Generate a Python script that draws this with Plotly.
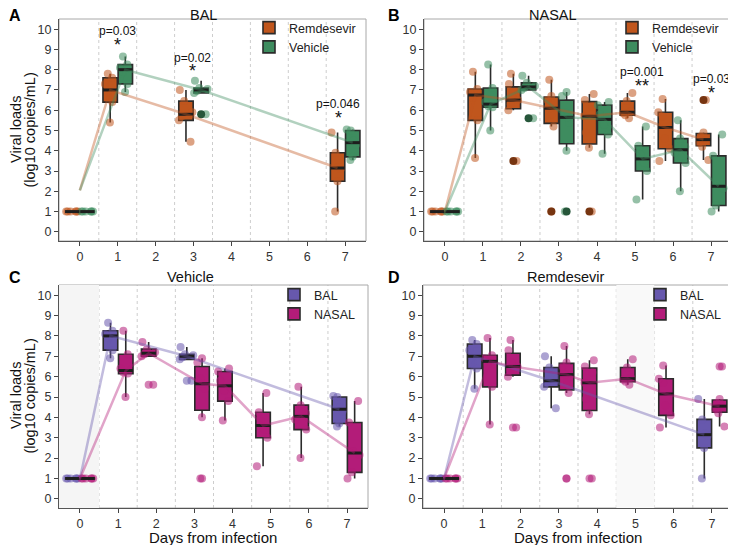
import statistics
import plotly.graph_objects as go

# ---------------- data ----------------
days_bal = [0, 1, 3, 7]
days_nasal = [0, 1, 2, 3, 4, 5, 6, 7]

# BAL, Remdesevir (per day, same order as days_bal)
rem_bal = [
    [1, 1, 1, 1, 1, 1],
    [5.4, 6.4, 6.7, 7.3, 7.6, 7.8],
    [4.45, 5.5, 5.7, 5.9, 6.45, 7.0],
    [1.0, 2.5, 3.1, 3.2, 3.9, 4.9],
]
# BAL, Vehicle
veh_bal = [
    [1, 1, 1, 1, 1, 1],
    [6.9, 7.3, 7.9, 8.1, 8.25, 8.65],
    [5.8, 6.85, 6.95, 7.05, 7.1, 7.45],
    [3.55, 3.7, 4.3, 4.5, 5.0, 5.05],
]
# NASAL, Remdesevir (per day, same order as days_nasal)
rem_nasal = [
    [1, 1, 1, 1, 1, 1],
    [3.65, 5.5, 6.6, 6.9, 7.05, 7.9],
    [3.5, 6.0, 6.3, 6.5, 6.7, 7.3, 7.8],
    [1.0, 5.2, 5.8, 6.1, 6.5, 6.7, 7.5],
    [1.0, 4.15, 4.9, 5.7, 6.2, 6.5, 6.8],
    [5.6, 5.75, 5.85, 5.95, 6.45, 6.85],
    [3.5, 4.1, 4.6, 5.7, 5.9, 6.55],
    [3.55, 4.2, 4.4, 4.55, 4.7, 4.9, 6.5],
]
# NASAL, Vehicle
veh_nasal = [
    [1, 1, 1, 1, 1, 1],
    [5.0, 6.15, 6.2, 6.4, 7.1, 8.25],
    [5.6, 7.0, 7.1, 7.2, 7.35, 7.7],
    [1.0, 4.0, 5.4, 5.65, 5.9, 6.7, 6.9],
    [3.85, 4.8, 5.3, 5.8, 6.25, 6.4],
    [1.6, 3.0, 3.4, 3.8, 4.25, 5.2],
    [2.0, 3.4, 3.9, 4.2, 4.6, 5.5],
    [1.0, 1.3, 2.15, 2.35, 3.75, 4.8],
]

# trend lines
trend_a_rem = [2.05, 7.0, 5.8, 3.15]
trend_a_veh = [2.05, 8.0, 7.0, 4.4]
trend_bal_rem = [1, 7.0, 5.8, 3.15]
trend_bal_veh = [1, 8.0, 7.0, 4.4]
trend_nasal_rem = [1, 6.75, 6.5, 6.1, 5.7, 5.9, 5.15, 4.55]
trend_nasal_veh = [1, 6.3, 7.15, 5.65, 5.55, 3.6, 4.05, 2.25]

# significance labels
sig_a_days = [1, 2.97, 6.82]
sig_a_p = ["p=0.03", "p=0.02", "p=0.046"]
sig_a_star = ["*", "*", "*"]
sig_a_ytext = [9.9, 8.6, 6.3]
sig_b_days = [5.17, 7.0]
sig_b_p = ["p=0.001", "p=0.03"]
sig_b_star = ["**", "*"]
sig_b_ytext = [7.9, 7.55]

x_ticks = [0, 1, 2, 3, 4, 5, 6, 7]
y_ticks = list(range(0, 11))

# ---------------- styles ----------------
C_REM = "#c0561d"
C_VEH = "#3e8c5f"
C_BAL = "#6758ad"
C_NAS = "#b31c79"
FONT = "Liberation Sans"
DODGE = 0.2
BOXW = 0.38

# the page body has an 8px margin, so the figure is placed at (8, 8)
OFF = 8
W, H = 736 - OFF, 545 - OFF


def px(x):
    return (x - OFF) / W


def py(y):
    return 1 - (y - OFF) / H


def rgba(hexc, a):
    h = hexc.lstrip("#")
    return "rgba(%d,%d,%d,%.2f)" % (int(h[0:2], 16), int(h[2:4], 16), int(h[4:6], 16), a)


def darker(hexc, f=0.62):
    h = hexc.lstrip("#")
    r, g, b = (int(h[i:i + 2], 16) for i in (0, 2, 4))
    return "rgb(%d,%d,%d)" % (r * f, g * f, b * f)


def box_positions(days, other_days, first):
    pos = []
    for d in days:
        if first or d not in other_days:
            pos.append(d - DODGE)
        else:
            pos.append(d + DODGE)
    return pos


fig = go.Figure()


def add_series(k, days, values, other_days, first, color, name, legend,
               trend, outlier_color):
    xa = "x" if k == 1 else "x%d" % k
    ya = "y" if k == 1 else "y%d" % k
    pos = box_positions(days, other_days, first)
    xs, ys = [], []
    for p, vals in zip(pos, values):
        xs += [p] * len(vals)
        ys += vals
    fig.add_trace(go.Box(
        x=xs, y=ys, name=name, xaxis=xa, yaxis=ya, legend=legend,
        width=BOXW, fillcolor=color, boxpoints="all", jitter=1.0, pointpos=0,
        line=dict(color="#2b2b2b", width=1.6),
        marker=dict(color=rgba(color, 0.55), size=8, line=dict(width=0)),
        whiskerwidth=0, hoverinfo="skip", showlegend=True))
    fig.add_trace(go.Box(
        x=xs, y=ys, name=name, xaxis=xa, yaxis=ya, legend=legend,
        width=BOXW, fillcolor="rgba(0,0,0,0)", boxpoints="outliers",
        line=dict(color="rgba(0,0,0,0)", width=0),
        marker=dict(color=outlier_color, size=8, line=dict(width=0)),
        hoverinfo="skip", showlegend=False))
    # thicker median bars (as in the reference)
    mx, my = [], []
    for p, vals in zip(pos, values):
        m = statistics.median(vals)
        mx += [p - BOXW / 2, p + BOXW / 2, None]
        my += [m, m, None]
    fig.add_trace(go.Scatter(
        x=mx, y=my, mode="lines", xaxis=xa, yaxis=ya,
        line=dict(color="#1e1e1e", width=3),
        hoverinfo="skip", showlegend=False))
    tx = [0 if d == 0 else p for d, p in zip(days, pos)]
    fig.add_trace(go.Scatter(
        x=tx, y=trend, mode="lines", xaxis=xa, yaxis=ya,
        line=dict(color=rgba(color, 0.4), width=2.5),
        hoverinfo="skip", showlegend=False))


# Panel A: BAL
add_series(1, days_bal, rem_bal, days_bal, True, C_REM, "Remdesevir", "legend",
           trend_a_rem, darker(C_REM))
add_series(1, days_bal, veh_bal, days_bal, False, C_VEH, "Vehicle", "legend",
           trend_a_veh, darker(C_VEH))
# Panel B: NASAL
add_series(2, days_nasal, rem_nasal, days_nasal, True, C_REM, "Remdesevir", "legend2",
           trend_nasal_rem, darker(C_REM))
add_series(2, days_nasal, veh_nasal, days_nasal, False, C_VEH, "Vehicle", "legend2",
           trend_nasal_veh, darker(C_VEH))
# Panel C: Vehicle
add_series(3, days_bal, veh_bal, days_nasal, True, C_BAL, "BAL", "legend3",
           trend_bal_veh, rgba(C_BAL, 0.55))
add_series(3, days_nasal, veh_nasal, days_bal, False, C_NAS, "NASAL", "legend3",
           trend_nasal_veh, rgba(C_NAS, 0.55))
# Panel D: Remdesevir
add_series(4, days_bal, rem_bal, days_nasal, True, C_BAL, "BAL", "legend4",
           trend_bal_rem, rgba(C_BAL, 0.55))
add_series(4, days_nasal, rem_nasal, days_bal, False, C_NAS, "NASAL", "legend4",
           trend_nasal_rem, rgba(C_NAS, 0.55))

# panel rectangles in reference pixels
panels = {
    1: ((59, 366), (19, 241)),
    2: ((424, 732), (19, 241)),
    3: ((59, 368), (285, 508)),
    4: ((423, 733), (285, 508)),
}

layout = dict(
    width=W, height=H, margin=dict(l=0, r=0, t=0, b=0),
    paper_bgcolor="white", plot_bgcolor="white",
    font=dict(family=FONT, color="#222", size=12),
    boxmode="overlay", showlegend=True,
)
axis_common = dict(showgrid=False, zeroline=False, ticks="outside", ticklen=4,
                   tickwidth=1, tickcolor="#444", showline=True, linecolor="#555",
                   linewidth=1.3, tickfont=dict(family=FONT, size=12.5, color="#333"))
for k, ((x0, x1), (y0, y1)) in panels.items():
    sx = "" if k == 1 else str(k)
    layout["xaxis" + sx] = dict(axis_common, domain=[px(x0), px(x1)],
                                range=[-0.55, 7.55], tickvals=x_ticks,
                                anchor="y" + sx)
    layout["yaxis" + sx] = dict(axis_common, domain=[py(y1), py(y0)],
                                range=[-0.45, 10.5], tickvals=y_ticks,
                                anchor="x" + sx)

legend_common = dict(xanchor="left", yanchor="top", bgcolor="rgba(0,0,0,0)",
                     font=dict(family=FONT, size=12.5, color="#222"),
                     tracegroupgap=0, itemwidth=30, borderwidth=0)
layout["legend"] = dict(legend_common, x=px(249), y=py(13))
layout["legend2"] = dict(legend_common, x=px(612), y=py(13))
layout["legend3"] = dict(legend_common, x=px(274), y=py(280))
layout["legend4"] = dict(legend_common, x=px(640), y=py(280))

shapes = []
for k in panels:
    sx = "" if k == 1 else str(k)
    xr, yr = "x" + sx, "y" + sx + " domain"
    for b in [0.5, 1.5, 2.5, 3.5, 4.5, 5.5, 6.5]:
        shapes.append(dict(type="line", xref=xr, yref=yr, x0=b, x1=b, y0=0, y1=1,
                           line=dict(color="#cdcdcd", width=1, dash="dot"),
                           layer="below"))
    shapes.append(dict(type="rect", xref="x" + sx + " domain", yref=yr,
                       x0=0, x1=1, y0=0, y1=1,
                       line=dict(color="#a8a8a8", width=1), layer="below"))
# light shaded bands
shapes.append(dict(type="rect", xref="x3", yref="y3 domain", x0=-0.55, x1=0.5,
                   y0=0, y1=1, fillcolor="#f5f5f5", line=dict(width=0), layer="below"))
shapes.append(dict(type="rect", xref="x4", yref="y4 domain", x0=4.5, x1=5.5,
                   y0=0, y1=1, fillcolor="#f9f9f9", line=dict(width=0), layer="below"))
layout["shapes"] = shapes

ann = []
titles = [("BAL", 203, 15), ("NASAL", 553, 15), ("Vehicle", 190, 277),
          ("Remdesevir", 566, 277)]
for t, x, y in titles:
    ann.append(dict(text=t, x=px(x), y=py(y), xref="paper", yref="paper",
                    showarrow=False, xanchor="center", yanchor="middle",
                    font=dict(family=FONT, size=14.5, color="#111")))
letters = [("A", 15, 16), ("B", 394, 16), ("C", 15, 277), ("D", 394, 277)]
for t, x, y in letters:
    ann.append(dict(text="<b>%s</b>" % t, x=px(x), y=py(y), xref="paper",
                    yref="paper", showarrow=False, xanchor="center",
                    yanchor="middle", font=dict(family=FONT, size=16, color="#000")))
for yc in [130, 396]:
    ann.append(dict(text="Viral loads", x=px(16), y=py(yc),
                    xref="paper", yref="paper", showarrow=False, textangle=-90,
                    xanchor="center", yanchor="middle",
                    font=dict(family=FONT, size=14.5, color="#111")))
    ann.append(dict(text="(log10 copies/mL)", x=px(29.5), y=py(yc),
                    xref="paper", yref="paper", showarrow=False, textangle=-90,
                    xanchor="center", yanchor="middle",
                    font=dict(family=FONT, size=14.5, color="#111")))
for xc in [213, 578]:
    ann.append(dict(text="Days from infection", x=px(xc), y=py(537),
                    xref="paper", yref="paper", showarrow=False,
                    xanchor="center", yanchor="middle",
                    font=dict(family=FONT, size=15, color="#111")))
for sx, days, ps, stars, yts in [("", sig_a_days, sig_a_p, sig_a_star, sig_a_ytext),
                                  ("2", sig_b_days, sig_b_p, sig_b_star, sig_b_ytext)]:
    for d, p, s, yt in zip(days, ps, stars, yts):
        ann.append(dict(text=p, x=d, y=yt, xref="x" + sx, yref="y" + sx,
                        showarrow=False, font=dict(family=FONT, size=12, color="#111")))
        ann.append(dict(text=s, x=d, y=yt - 0.68, xref="x" + sx, yref="y" + sx,
                        showarrow=False, font=dict(family=FONT, size=18, color="#111")))
layout["annotations"] = ann

fig.update_layout(**layout)
fig.write_html("out.html")
